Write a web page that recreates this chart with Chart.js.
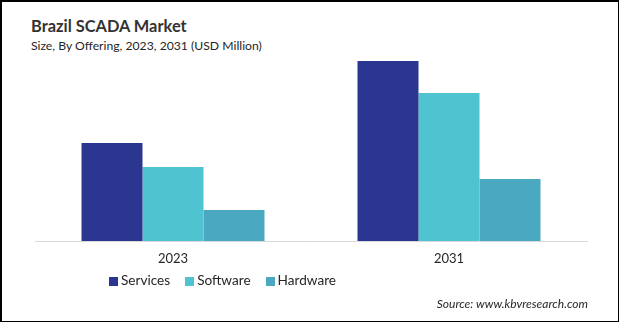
<!DOCTYPE html>
<html lang="en">
<head>
<meta charset="UTF-8">
<title>Brazil SCADA Market</title>
<style>
    body {
        margin: 0;
        width: 619px;
        height: 322px;
        position: relative;
        background: #fff;
        font-family: Lato, "Open Sans", sans-serif;
        color: #262626;
        overflow: hidden;
    }
    .frame {
        position: absolute;
        inset: 0;
        border-left: 2px solid #000;
        border-top: 2px solid #000;
        border-right: 1px solid #000;
        border-bottom: 1px solid #000;
        pointer-events: none;
    }
    #chart {
        position: absolute;
        left: 0;
        top: 0;
    }
    .title {
        position: absolute;
        left: 31px;
        top: 18px;
        font-size: 16.4px;
        font-weight: bold;
        line-height: 1;
        color: #333;
    }
    .subtitle {
        position: absolute;
        left: 31px;
        top: 40px;
        font-size: 12.2px;
        line-height: 1;
    }
    .legend {
        position: absolute;
        left: 109px;
        top: 274px;
        display: flex;
        gap: 15px;
        font-size: 13.6px;
        line-height: 1;
    }
    .legend span {
        display: flex;
        align-items: center;
        gap: 3px;
    }
    .legend i {
        display: inline-block;
        width: 9px;
        height: 9px;
        margin-top: 2px;
    }
    .source {
        position: absolute;
        right: 31px;
        top: 298px;
        font-size: 12px;
        font-style: italic;
        line-height: 1;
    }
</style>
<script src="https://cdn.jsdelivr.net/npm/chart.js"></script>
</head>
<body>
    <div class="title">Brazil SCADA Market</div>
    <div class="subtitle">Size, By Offering, 2023, 2031 (USD Million)</div>
    <canvas id="chart" width="619" height="322"></canvas>
    <div class="legend" id="legend"></div>
    <div class="source">Source: www.kbvresearch.com</div>
    <div class="frame"></div>

<script>
    // market size per offering (USD Million)
    const years = ['2023', '2031'];
    const services = [98, 180];
    const software = [74, 148];
    const hardware = [31, 62];

    const seriesNames = ['Services', 'Software', 'Hardware'];
    const seriesColors = ['#2b3690', '#4fc3cf', '#4aa9c1'];
    const seriesData = [services, software, hardware];

    const datasets = seriesNames.map((name, i) => ({
        label: name,
        data: seriesData[i],
        backgroundColor: seriesColors[i],
        borderWidth: 0,
        barPercentage: 1,
        categoryPercentage: 0.663
    }));

    new Chart(document.getElementById('chart'), {
        type: 'bar',
        data: { labels: years, datasets: datasets },
        options: {
            responsive: false,
            animation: false,
            layout: { padding: { left: 35, right: 32, top: 41, bottom: 0 } },
            plugins: {
                legend: { display: false },
                tooltip: { enabled: false }
            },
            scales: {
                x: {
                    grid: { display: false, drawTicks: false },
                    border: { display: true, color: '#d9d9d9', width: 1 },
                    ticks: {
                        padding: 10,
                        color: '#262626',
                        font: { family: 'Lato', size: 13 }
                    },
                    afterFit: scale => { scale.height = 81; }
                },
                y: {
                    display: false,
                    min: 0,
                    max: 200
                }
            }
        }
    });

    // legend built from the same series
    const legend = document.getElementById('legend');
    seriesNames.forEach((name, i) => {
        const item = document.createElement('span');
        item.innerHTML = `<i style="background:${seriesColors[i]}"></i>${name}`;
        legend.appendChild(item);
    });
</script>
</body>
</html>
